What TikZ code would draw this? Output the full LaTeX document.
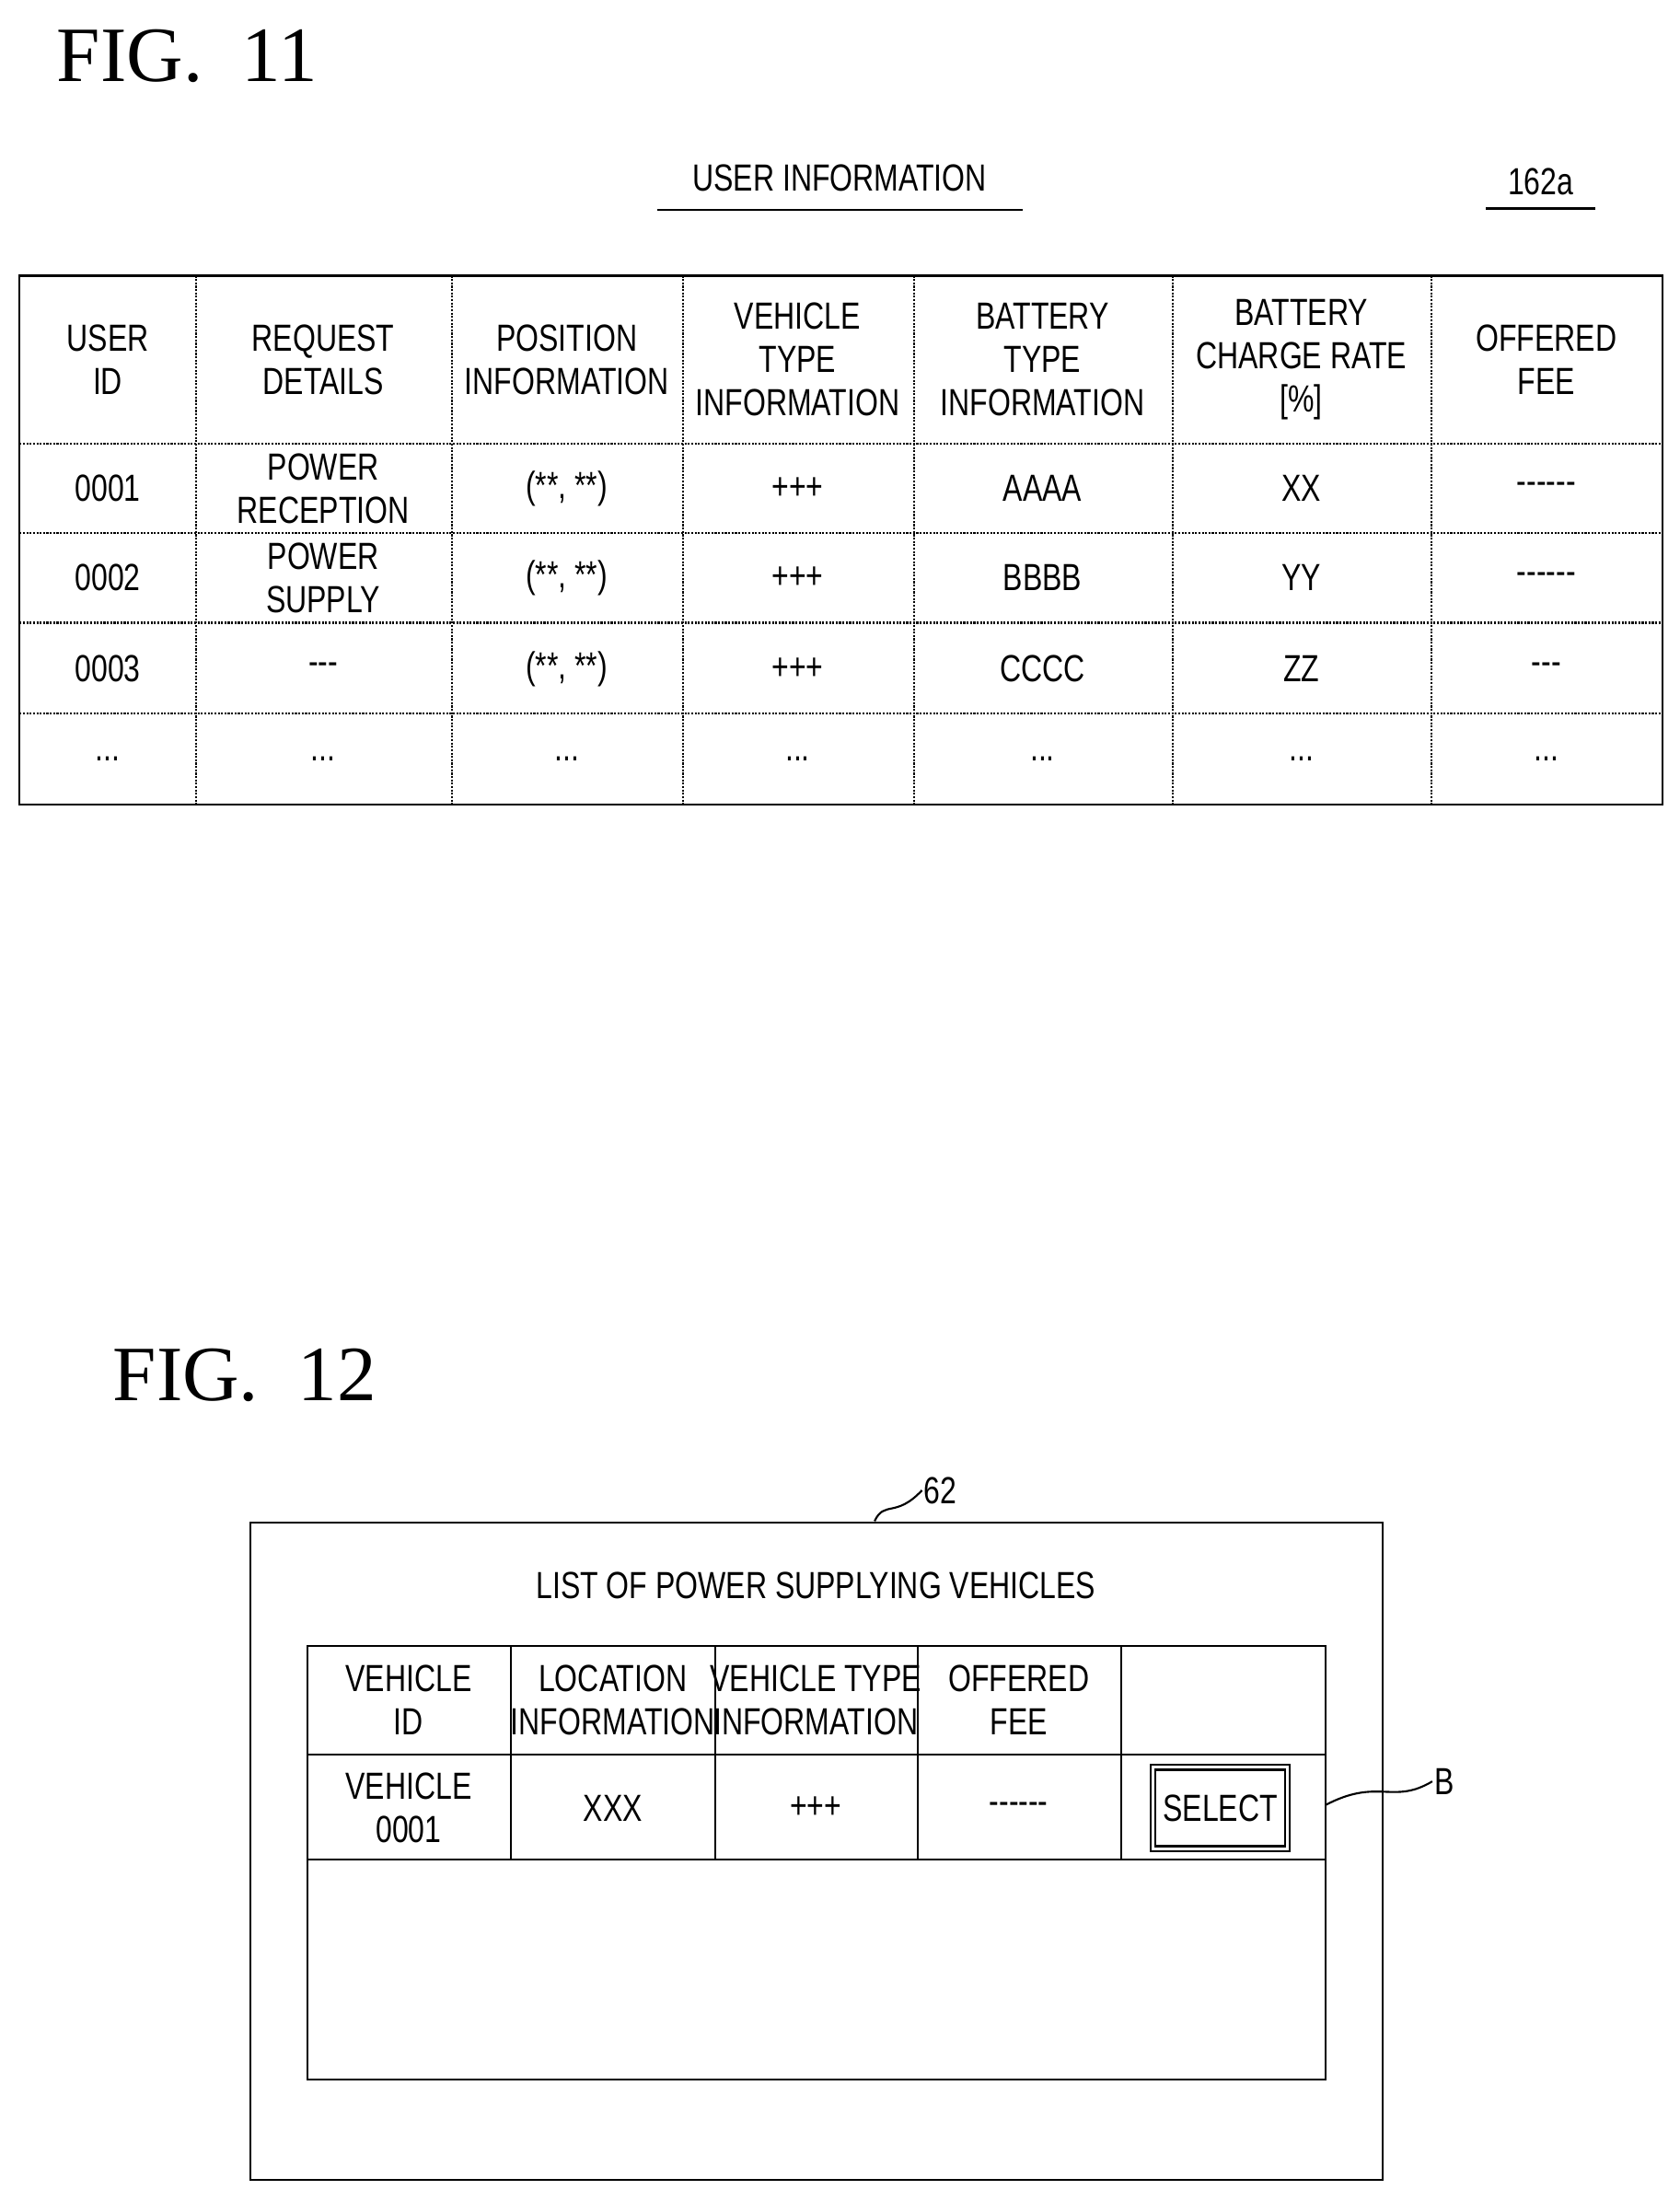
\documentclass[tikz,border=0pt]{standalone}
\usepackage{fontspec}
\setmainfont{Liberation Serif}
\newfontfamily\tabfont[FakeStretch=0.78]{Liberation Sans}
\tikzset{every picture/.style={line width=1.4pt}}
\tikzset{cell/.style={inner sep=0.75pt,align=center,font=\tabfont\fontsize{27}{31}\selectfont}}
\begin{document}
\begin{tikzpicture}[x=1pt,y=1pt,yscale=-1,xscale=1]
\useasboundingbox (0,0) rectangle (1200,1565);

% FIG. 11
\node (fig11) [anchor=west,inner sep=0pt,font=\fontsize{56}{60}\selectfont] at (40,40) {FIG.~~11};
\node (title1) [cell] at (600,127) {USER INFORMATION};
\draw (470,150) -- (731,150);
\node (ref162) [cell] at (1101,130) {162a};
\draw (1062,149) -- (1140,149);

% table of users
\draw (14,197) rectangle (1188,575);
\foreach \x in {140,323,488,653,838,1023} \draw [densely dotted] (\x,197) -- (\x,575);
\foreach \y in {317,381,445,510} \draw [densely dotted] (14,\y) -- (1188,\y);

\node (hid) [cell] at (77,257) {USER\\ID};
\node (hreq) [cell] at (231,257) {REQUEST\\DETAILS};
\node (hpos) [cell] at (405,257) {POSITION\\INFORMATION};
\node (hveh) [cell] at (570,257) {VEHICLE\\TYPE\\INFORMATION};
\node (hbat) [cell] at (745,257) {BATTERY\\TYPE\\INFORMATION};
\node (hchg) [cell] at (930,257) {BATTERY\\CHARGE RATE\\{[\%]}};
\node (hfee) [cell] at (1105,257) {OFFERED\\FEE};

\node (id1) [cell] at (77,349) {0001};
\node (req1) [cell] at (231,349) {POWER\\RECEPTION};
\node (id2) [cell] at (77,413) {0002};
\node (req2) [cell] at (231,413) {POWER\\SUPPLY};
\node (id3) [cell] at (77,478) {0003};
\node (req3) [cell] at (231,478) {---};
\foreach \y/\b/\c/\f in {349/AAAA/XX/------, 413/BBBB/YY/------, 478/CCCC/ZZ/---}{
  \node [cell] at (405,\y) {(**, **)};
  \node [cell] at (570,\y) {+++};
  \node [cell] at (745,\y) {\b};
  \node [cell] at (930,\y) {\c};
  \node [cell] at (1105,\y) {\f};
}
\foreach \x in {77,231,405,570,745,930,1105} \node [cell] at (\x,542) {...};

% FIG. 12
\node (fig12) [anchor=west,inner sep=0pt,font=\fontsize{56}{60}\selectfont] at (80,983) {FIG.~~12};
\draw (179,1088) rectangle (988,1558);
\node (ref62) [cell] at (672,1065) {62};
\coordinate (tip62) at (625,1087);
\draw (tip62) .. controls (632,1072) and (640,1085) .. (ref62.west);
\node (title2) [cell] at (583,1133) {LIST OF POWER SUPPLYING VEHICLES};

\draw (220,1176) rectangle (947,1486);
\foreach \x in {365,511,656,801} \draw (\x,1176) -- (\x,1329);
\draw (220,1254) -- (947,1254);
\draw (220,1329) -- (947,1329);

\node (hvid) [cell] at (292,1215) {VEHICLE\\ID};
\node (hloc) [cell] at (438,1215) {LOCATION\\INFORMATION};
\node (hvt) [cell] at (583,1215) {VEHICLE TYPE\\INFORMATION};
\node (hof) [cell] at (728,1215) {OFFERED\\FEE};
\node (vid) [cell] at (292,1292) {VEHICLE\\0001};
\node (loc) [cell] at (438,1292) {XXX};
\node (vt) [cell] at (583,1292) {+++};
\node (of) [cell] at (728,1292) {------};
\node (select) [cell,draw,double,double distance=2pt,minimum width=96pt,minimum height=58pt] at (872,1292) {SELECT};
\node (labB) [cell] at (1032,1273) {B};
\coordinate (tipB) at (947,1290);
\draw (tipB) .. controls (985,1270) and (995,1290) .. (labB.west);
\end{tikzpicture}
\end{document}
